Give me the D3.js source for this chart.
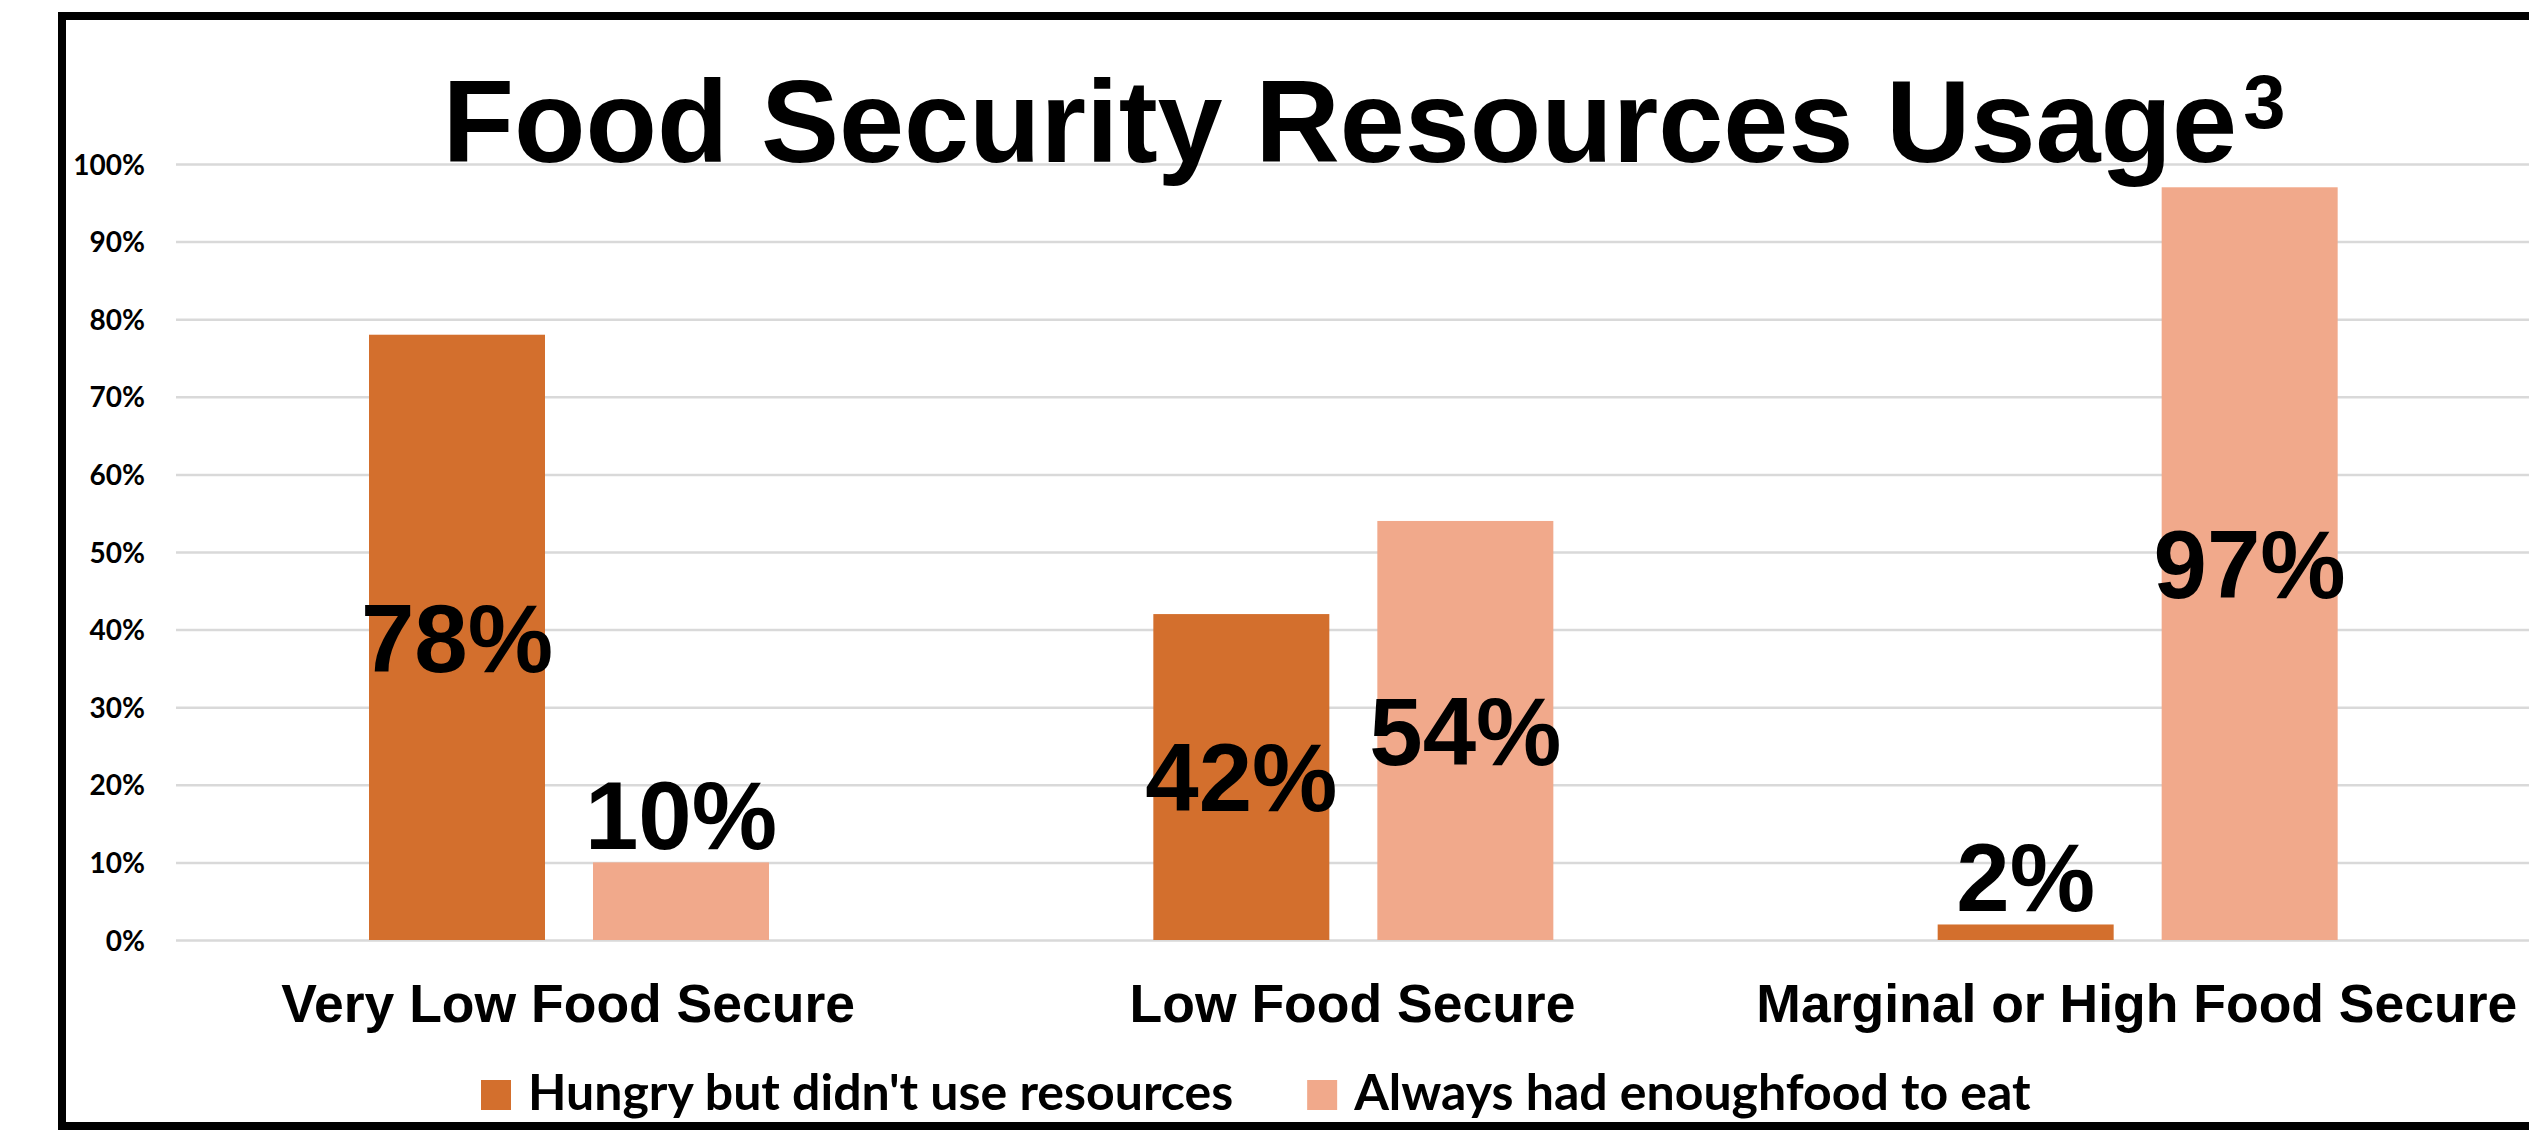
<!DOCTYPE html>
<html>
<head>
<meta charset="utf-8">
<script src="https://cdn.jsdelivr.net/npm/d3@7"></script>
<style>
  html, body { margin: 0; padding: 0; background: #ffffff; }
  svg { display: block; }
</style>
</head>
<body>
<svg id="chart" width="2529" height="1130"></svg>
<script>
// Food security groups and the share of households in each response
const categories = ["Very Low Food Secure", "Low Food Secure", "Marginal or High Food Secure"];
const seriesNames = ["Hungry but didn't use resources", "Always had enoughfood to eat"];
const hungryNoResources = [78, 42, 2];
const alwaysEnoughFood = [10, 54, 97];
const yTicks = [0, 10, 20, 30, 40, 50, 60, 70, 80, 90, 100];
const seriesColors = ["#D36F2D", "#F1A98B"];

const seriesValues = [hungryNoResources, alwaysEnoughFood];

const W = 2529, H = 1130;
const plot = { left: 176, right: 2529, top: 164, bottom: 940 };

const svg = d3.select("#chart");

svg.append("rect").attr("width", W).attr("height", H).attr("fill", "#ffffff");

// Outer frame (open on the right, runs off the canvas)
svg.append("rect")
  .attr("x", 62).attr("y", 16)
  .attr("width", 2600).attr("height", 1110)
  .attr("fill", "none")
  .attr("stroke", "#000").attr("stroke-width", 8);

const y = d3.scaleLinear().domain([0, 100]).range([plot.bottom, plot.top]);

const x0 = d3.scaleBand().domain(categories).range([plot.left, plot.right])
  .paddingInner(0).paddingOuter(0);
const x1 = d3.scaleBand().domain(d3.range(seriesNames.length))
  .range([193, 593])
  .paddingInner(0.2143).paddingOuter(0);

// Gridlines and percentage ticks
const yAxis = d3.axisLeft(y).tickValues(yTicks)
  .tickSize(-(plot.right - plot.left))
  .tickFormat(d => d + "%");
const gy = svg.append("g")
  .attr("transform", `translate(${plot.left},0)`)
  .call(yAxis);
gy.select(".domain").remove();
gy.selectAll(".tick line").attr("stroke", "#D9D9D9").attr("stroke-width", 2.5);
gy.selectAll(".tick text")
  .attr("x", -31)
  .attr("dy", "0.36em")
  .attr("fill", "#000")
  .style("font-family", "Lato, 'Open Sans', sans-serif")
  .style("font-weight", "700")
  .style("font-size", "28px");

// Bars with value labels
const groups = svg.append("g").selectAll("g.cat")
  .data(categories)
  .join("g")
  .attr("class", "cat")
  .attr("transform", d => `translate(${x0(d)},0)`);

const labelSize = 96;
const capH = labelSize * 0.716;

groups.each(function(cat, ci) {
  const g = d3.select(this);
  seriesValues.forEach((vals, si) => {
    const v = vals[ci];
    const bx = x1(si), bw = x1.bandwidth();
    const top = y(v), h = y(0) - y(v);
    g.append("rect")
      .attr("x", bx).attr("y", top)
      .attr("width", bw).attr("height", h)
      .attr("fill", seriesColors[si]);
    const inside = h > capH * 1.4;
    g.append("text")
      .attr("x", bx + bw / 2)
      .attr("y", inside ? top + h / 2 + capH / 2 : top - 13)
      .attr("text-anchor", "middle")
      .attr("fill", "#000")
      .style("font-family", "'Liberation Sans', Arial, sans-serif")
      .style("font-weight", "700")
      .style("font-size", labelSize + "px")
      .text(v + "%");
  });
});

// Category labels
svg.append("g").selectAll("text")
  .data(categories)
  .join("text")
  .attr("x", d => x0(d) + x0.bandwidth() / 2)
  .attr("y", 1022)
  .attr("text-anchor", "middle")
  .attr("fill", "#000")
  .style("font-family", "'Liberation Sans', Arial, sans-serif")
  .style("font-weight", "700")
  .style("font-size", "53.5px")
  .text(d => d);

// Title with superscript note marker
const title = svg.append("text")
  .attr("x", 1364).attr("y", 162)
  .attr("text-anchor", "middle")
  .attr("fill", "#000")
  .style("font-family", "'Liberation Sans', Arial, sans-serif")
  .style("font-weight", "700");
title.append("tspan").style("font-size", "117px").text("Food Security Resources Usage");
title.append("tspan").style("font-size", "76px").attr("dy", -34).attr("dx", 6).text("3");

// Legend
const legend = svg.append("g");
let lx = 481;
seriesNames.forEach((name, i) => {
  legend.append("rect")
    .attr("x", lx).attr("y", 1080)
    .attr("width", 30).attr("height", 30)
    .attr("fill", seriesColors[i]);
  const t = legend.append("text")
    .attr("x", lx + 47).attr("y", 1110)
    .attr("fill", "#000")
    .style("font-family", "Lato, 'Open Sans', sans-serif")
    .style("font-weight", "700")
    .style("font-size", "50px")
    .text(name);
  lx = lx + 47 + t.node().getComputedTextLength() + 74;
});
</script>
</body>
</html>
